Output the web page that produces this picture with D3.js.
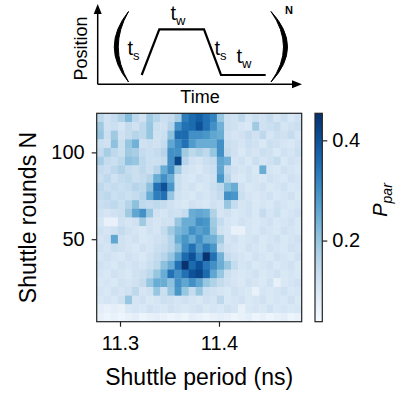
<!DOCTYPE html>
<html>
<head>
<meta charset="utf-8">
<script src="https://cdn.jsdelivr.net/npm/d3@7"></script>
<style>
  body { margin: 0; background: #fff; }
  svg text { font-family: "Liberation Sans", Arial, sans-serif; fill: #000; }
</style>
</head>
<body>
<div id="chart"></div>
<script>
// data
var periods = [11.2800, 11.2871, 11.2943, 11.3014, 11.3086, 11.3157, 11.3229, 11.3300, 11.3371, 11.3443,
               11.3514, 11.3586, 11.3657, 11.3729, 11.3800, 11.3871, 11.3943, 11.4014, 11.4086, 11.4157,
               11.4229, 11.4300, 11.4371, 11.4443, 11.4514, 11.4586, 11.4657, 11.4729, 11.4800];
var rounds = [120, 115, 110, 105, 100, 95, 90, 85, 80, 75, 70, 65, 60, 55, 50, 45, 40, 35, 30, 25, 20, 15, 10, 5];
// one row per entry of rounds (top to bottom), one value per period
var pPar = [
  [.15,.12,.14,.17,.22,.15,.12,.19,.16,.13,.14,.18,.33,.36,.38,.35,.32,.20,.13,.12,.15,.11,.13,.12,.14,.11,.13,.10,.12],
  [.19,.12,.13,.11,.14,.12,.15,.20,.13,.12,.16,.30,.35,.36,.40,.35,.30,.24,.13,.12,.11,.10,.19,.12,.13,.14,.11,.12,.13],
  [.20,.13,.19,.12,.14,.16,.15,.20,.12,.13,.21,.36,.36,.30,.30,.29,.26,.25,.12,.11,.12,.14,.12,.15,.11,.13,.12,.14,.11],
  [.13,.12,.21,.13,.20,.24,.12,.13,.12,.14,.26,.31,.35,.28,.25,.25,.25,.30,.13,.12,.11,.13,.12,.10,.13,.12,.11,.10,.12],
  [.14,.18,.15,.13,.19,.18,.14,.13,.14,.16,.30,.30,.19,.15,.17,.15,.20,.30,.14,.12,.10,.12,.11,.13,.12,.10,.12,.11,.13],
  [.18,.14,.13,.15,.21,.20,.15,.13,.13,.14,.30,.42,.16,.12,.11,.13,.14,.26,.24,.11,.12,.10,.13,.11,.12,.14,.10,.12,.11],
  [.14,.13,.15,.17,.14,.13,.15,.13,.16,.25,.31,.19,.12,.11,.10,.12,.13,.26,.14,.12,.11,.12,.10,.25,.11,.10,.12,.11,.10],
  [.13,.15,.12,.14,.15,.13,.14,.16,.25,.30,.25,.13,.11,.10,.12,.11,.12,.29,.16,.11,.10,.12,.11,.10,.12,.11,.10,.12,.11],
  [.15,.13,.14,.13,.14,.16,.15,.21,.35,.40,.29,.13,.11,.12,.10,.11,.13,.15,.22,.25,.12,.10,.11,.12,.10,.11,.12,.10,.11],
  [.14,.15,.13,.14,.13,.14,.16,.25,.33,.35,.20,.12,.11,.10,.12,.11,.12,.14,.30,.29,.13,.11,.10,.11,.12,.10,.11,.12,.10],
  [.13,.14,.15,.13,.16,.21,.15,.14,.15,.14,.12,.11,.10,.12,.11,.10,.12,.11,.20,.14,.11,.12,.10,.11,.10,.12,.11,.10,.11],
  [.12,.11,.12,.13,.19,.26,.30,.20,.12,.11,.13,.12,.14,.25,.26,.25,.17,.11,.12,.10,.11,.12,.10,.14,.11,.13,.10,.11,.12],
  [.11,.07,.07,.12,.11,.12,.19,.12,.11,.12,.12,.20,.25,.25,.30,.29,.19,.14,.11,.10,.12,.11,.10,.11,.12,.10,.11,.12,.10],
  [.12,.11,.12,.14,.12,.11,.10,.12,.11,.14,.19,.23,.25,.30,.27,.29,.20,.12,.11,.07,.07,.11,.10,.12,.11,.10,.12,.11,.10],
  [.11,.12,.26,.12,.11,.12,.10,.11,.12,.13,.16,.25,.29,.25,.30,.25,.24,.19,.11,.12,.10,.11,.12,.10,.11,.12,.10,.11,.12],
  [.12,.11,.13,.12,.11,.10,.12,.11,.13,.14,.16,.21,.30,.35,.28,.33,.29,.15,.12,.11,.10,.12,.11,.10,.12,.11,.10,.12,.11],
  [.11,.12,.11,.10,.12,.11,.10,.12,.14,.16,.20,.27,.36,.40,.32,.45,.35,.24,.14,.12,.11,.10,.12,.11,.10,.12,.11,.10,.12],
  [.12,.11,.10,.12,.11,.12,.11,.13,.15,.21,.25,.35,.45,.36,.40,.34,.30,.25,.20,.14,.11,.12,.10,.11,.12,.10,.11,.12,.10],
  [.11,.10,.12,.11,.10,.12,.13,.15,.20,.25,.35,.30,.35,.40,.42,.36,.26,.20,.13,.11,.10,.11,.12,.10,.11,.12,.10,.11,.10],
  [.10,.11,.10,.12,.11,.12,.14,.20,.25,.25,.21,.30,.26,.30,.26,.20,.17,.14,.12,.11,.10,.12,.11,.10,.12,.07,.10,.11,.12],
  [.11,.10,.12,.11,.12,.15,.11,.12,.20,.13,.20,.29,.20,.14,.20,.13,.12,.11,.10,.12,.11,.10,.07,.11,.10,.11,.12,.10,.11],
  [.10,.11,.10,.12,.20,.11,.12,.10,.11,.13,.12,.11,.12,.11,.10,.12,.11,.15,.10,.11,.12,.10,.11,.12,.10,.11,.10,.12,.10],
  [.08,.07,.08,.07,.10,.11,.10,.12,.11,.10,.12,.11,.10,.11,.12,.10,.11,.10,.12,.11,.07,.10,.11,.10,.12,.10,.11,.10,.11],
  [.07,.06,.07,.06,.07,.08,.06,.07,.08,.07,.06,.07,.06,.08,.07,.06,.07,.08,.07,.06,.07,.08,.06,.07,.06,.07,.08,.06,.07]
];
var xTicks = [11.3, 11.4];
var yTicks = [50, 100];
var cTicks = [0.2, 0.4];
var colorDomain = [0.038, 0.454];

var W = 399, H = 397;
var svg = d3.select('#chart').append('svg').attr('width', W).attr('height', H);

// heatmap box
var box = {l: 96.7, r: 301.7, t: 113.3, b: 321.7};
var dx = periods[1] - periods[0], dy = 5;

var x = d3.scaleLinear().domain([periods[0] - dx / 2, periods[periods.length - 1] + dx / 2]).range([box.l, box.r]);
var y = d3.scaleLinear().domain([d3.min(rounds) - dy / 2, d3.max(rounds) + dy / 2]).range([box.b, box.t]);
var color = d3.scaleSequential(d3.interpolateBlues).domain(colorDomain);

var cells = [];
pPar.forEach(function(row, j){
    row.forEach(function(v, i){
        cells.push({p: periods[i], n: rounds[j], v: v});
    });
});

svg.append('g').attr('class', 'cells')
    .selectAll('rect')
    .data(cells)
    .enter()
    .append('rect')
    .attr('x', function(d){ return x(d.p - dx / 2); })
    .attr('y', function(d){ return y(d.n + dy / 2); })
    .attr('width', function(d){ return x(d.p + dx / 2) - x(d.p - dx / 2) + 0.4; })
    .attr('height', function(d){ return y(d.n - dy / 2) - y(d.n + dy / 2) + 0.4; })
    .attr('fill', function(d){ return color(d.v); });

svg.append('rect')
    .attr('x', box.l).attr('y', box.t)
    .attr('width', box.r - box.l).attr('height', box.b - box.t)
    .attr('fill', 'none').attr('stroke', '#222').attr('stroke-width', 1.2);

// axes
var axisX = d3.axisBottom(x).tickValues(xTicks).tickSize(5).tickPadding(9).tickFormat(d3.format('.1f'));
var axisY = d3.axisLeft(y).tickValues(yTicks).tickSize(5).tickPadding(7);

var gx = svg.append('g').attr('transform', 'translate(0,' + box.b + ')').call(axisX);
var gy = svg.append('g').attr('transform', 'translate(' + box.l + ',0)').call(axisY);
[gx, gy].forEach(function(g){
    g.select('.domain').remove();
    g.selectAll('line').attr('stroke', '#222').attr('stroke-width', 1.2);
    g.selectAll('text').style('font-size', '20px').attr('fill', '#000');
});

svg.append('text')
    .attr('x', (box.l + box.r) / 2).attr('y', 385)
    .attr('text-anchor', 'middle').style('font-size', '23px')
    .text('Shuttle period (ns)');

svg.append('text')
    .attr('transform', 'translate(36,' + (box.t + box.b) / 2 + ') rotate(-90)')
    .attr('text-anchor', 'middle').style('font-size', '23px')
    .text('Shuttle rounds N');

// colorbar
var cb = {l: 315, r: 322.3};
var cy = d3.scaleLinear().domain(colorDomain).range([box.b, box.t]);
var grad = svg.append('defs').append('linearGradient')
    .attr('id', 'cbar').attr('x1', 0).attr('y1', 1).attr('x2', 0).attr('y2', 0);
d3.range(0, 1.0001, 0.05).forEach(function(t){
    grad.append('stop').attr('offset', t).attr('stop-color', d3.interpolateBlues(t));
});
svg.append('rect')
    .attr('x', cb.l).attr('y', box.t)
    .attr('width', cb.r - cb.l).attr('height', box.b - box.t)
    .attr('fill', 'url(#cbar)').attr('stroke', '#222').attr('stroke-width', 1.2);

var axisC = d3.axisRight(cy).tickValues(cTicks).tickSize(5).tickPadding(5).tickFormat(d3.format('.1f'));
var gc = svg.append('g').attr('transform', 'translate(' + cb.r + ',0)').call(axisC);
gc.select('.domain').remove();
gc.selectAll('line').attr('stroke', '#222').attr('stroke-width', 1.2);
gc.selectAll('text').style('font-size', '20px').attr('fill', '#000');

var plab = svg.append('text')
    .attr('transform', 'translate(387,200) rotate(-90)')
    .attr('text-anchor', 'middle').style('font-size', '20px').style('font-style', 'italic');
plab.append('tspan').text('P');
plab.append('tspan').attr('dy', 5).style('font-size', '14px').text('par');

// schematic on top
var sk = svg.append('g').attr('class', 'sketch');
var ax0 = 97.7, ay0 = 84.3;

sk.append('line').attr('x1', ax0).attr('y1', ay0).attr('x2', ax0).attr('y2', 12)
    .attr('stroke', '#000').attr('stroke-width', 1.5);
sk.append('line').attr('x1', ax0).attr('y1', ay0).attr('x2', 294).attr('y2', ay0)
    .attr('stroke', '#000').attr('stroke-width', 1.5);
sk.append('path').attr('d', 'M' + ax0 + ',4 L' + (ax0 - 4) + ',14 L' + (ax0 + 4) + ',14 Z').attr('fill', '#000');
sk.append('path').attr('d', 'M302,' + ay0 + ' L292,' + (ay0 - 4) + ' L292,' + (ay0 + 4) + ' Z').attr('fill', '#000');

sk.append('text')
    .attr('transform', 'translate(87,48.5) rotate(-90)')
    .attr('text-anchor', 'middle').style('font-size', '18px')
    .text('Position');
sk.append('text')
    .attr('x', 200).attr('y', 103)
    .attr('text-anchor', 'middle').style('font-size', '18px')
    .text('Time');

// parentheses
sk.append('path').attr('d', 'M128.5,11.5 Q100,47 128.5,82 Q108,47 128.5,11.5 Z')
    .attr('fill', '#000').attr('stroke', '#000').attr('stroke-width', 1);
sk.append('path').attr('d', 'M271,11.5 Q304,47 271,82 Q296,47 271,11.5 Z')
    .attr('fill', '#000').attr('stroke', '#000').attr('stroke-width', 1);
sk.append('text').attr('x', 289).attr('y', 14).attr('text-anchor', 'middle')
    .style('font-size', '11px').style('font-weight', 'bold').text('N');

// trapezoid trajectory
var traj = [[141.7, 75], [159.3, 29.3], [204, 29.3], [221, 75], [265.7, 75]];
sk.append('path')
    .attr('d', d3.line()(traj))
    .attr('fill', 'none').attr('stroke', '#000').attr('stroke-width', 2.2)
    .attr('stroke-linejoin', 'miter');

var tLabels = [
  {x: 127.5, y: 55, sub: 's'},
  {x: 170.5, y: 20, sub: 'w'},
  {x: 214.5, y: 55, sub: 's'},
  {x: 236.5, y: 63, sub: 'w'}
];
tLabels.forEach(function(d){
    var t = sk.append('text').attr('x', d.x).attr('y', d.y).style('font-size', '20px');
    t.append('tspan').text('t');
    t.append('tspan').attr('dy', 5).style('font-size', '13px').text(d.sub);
});
</script>
</body>
</html>
